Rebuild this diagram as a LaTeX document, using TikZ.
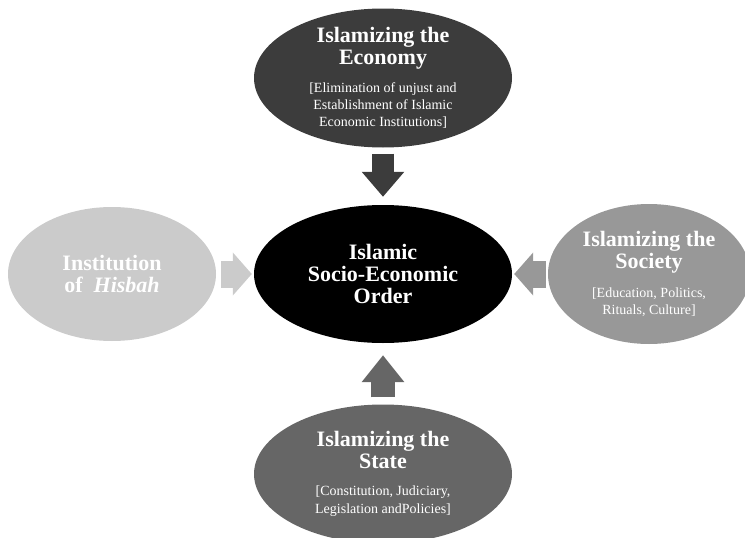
\documentclass[tikz,border=0pt]{standalone}
\usepackage{fontspec}
\setmainfont{Liberation Serif}
\usetikzlibrary{shapes.geometric,arrows.meta}

\definecolor{econgray}{HTML}{3C3C3C}
\definecolor{stategray}{HTML}{666666}
\definecolor{societygray}{HTML}{989898}
\definecolor{hisbahgray}{HTML}{CBCBCB}

\newcommand{\subline}[1]{{\fontsize{14}{17}\selectfont\mdseries #1}}

\tikzset{
  blob/.style={ellipse, inner sep=0pt, align=center, text=white,
    font=\fontsize{22}{22}\selectfont\bfseries},
  vbar/.style={draw=#1, line width=22pt, -{Triangle[length=25pt,width=41pt]}},
  hbar/.style={draw=#1, line width=27pt, -{Triangle[length=19pt,width=42pt]}},
}

\begin{document}
\begin{tikzpicture}[x=1pt,y=-1pt]
\useasboundingbox (0,0) rectangle (745,538);
%\draw[help lines,step=50] (0,0) grid (745,538);

\node[blob, fill=black, minimum width=258pt, minimum height=138pt] (order) at (383,274)
  {Islamic\\Socio-Economic\\Order};

\node[blob, fill=econgray, inner ysep=-5pt, minimum width=258pt, minimum height=139pt] (economy) at (383,78)
  {Islamizing the\\Economy\\[6pt]\subline{[Elimination of unjust and}\\[-5pt]\subline{Establishment of Islamic}\\[-5pt]\subline{Economic Institutions]}};

\node[blob, fill=hisbahgray, minimum width=208pt, minimum height=134pt] (hisbah) at (112,274)
  {Institution\\of~ \textit{Hisbah}};

\node[blob, fill=societygray, minimum width=202pt, minimum height=140pt] (society) at (649,274)
  {Islamizing the\\Society\\[7pt]\subline{[Education, Politics,}\\[-5pt]\subline{Rituals, Culture]}};

\node[blob, fill=stategray, minimum width=258pt, minimum height=139pt] (state) at (383,474)
  {Islamizing the\\State\\[5pt]\subline{[Constitution, Judiciary,}\\[-4pt]\subline{Legislation andPolicies]}};

% block arrows into the centre
\draw[vbar=econgray, shorten <=6pt, shorten >=8pt] (economy) -- (order);
\draw[vbar=stategray, line width=24pt, -{Triangle[length=27pt,width=41pt]},
  shorten <=7pt, shorten >=12pt] (state) -- (order);
\draw[hbar=hisbahgray, shorten <=5pt, shorten >=2pt] (hisbah) -- (order);
\draw[hbar=societygray, shorten <=2pt, shorten >=2pt] (society) -- (order);
\end{tikzpicture}
\end{document}
